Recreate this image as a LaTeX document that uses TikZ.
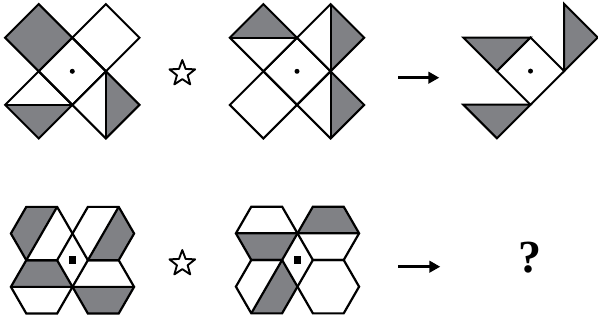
\documentclass[tikz,border=0pt]{standalone}
\usepackage{fontspec}
\setmainfont{Liberation Serif}
\usetikzlibrary{arrows.meta,shapes.geometric}

\definecolor{shade}{RGB}{128,129,133}

\begin{document}
\begin{tikzpicture}[x=1pt,y=-1pt,
  edge/.style={line width=2pt,line join=miter},
  hexedge/.style={line width=2.2pt,line join=miter},
  dark/.style={fill=shade},
  dot/.style={circle,fill,inner sep=0pt,minimum size=5pt},
  sqdot/.style={rectangle,fill,inner sep=0pt,minimum size=7.5pt},
  starmark/.style={star,star points=5,star point ratio=2.4,draw,line width=1.9pt,line join=round,minimum size=27pt,inner sep=0pt},
  a/.style={-{Triangle[length=11pt,width=11.5pt]},line width=2.8pt}]
\useasboundingbox (0,0) rectangle (598,322);

% top row: crosses of diamonds
\begin{scope}[shift={(72.3pt,-71.3pt)},x=33.6pt,y=-33.6pt]
  \fill[dark] (-2,-1)--(-1,-2)--(0,-1)--(-1,0)--cycle;
  \fill[dark] (-2,1)--(0,1)--(-1,2)--cycle;
  \fill[dark] (1,0)--(2,1)--(1,2)--cycle;
  \foreach \i/\j in {0/0,-1/-1,1/-1,-1/1,1/1}
    \draw[edge] (\i-1,\j)--(\i,\j-1)--(\i+1,\j)--(\i,\j+1)--cycle;
  \draw[edge] (-2,1)--(0,1) (1,0)--(1,2);
  \node[dot] (m1) at (0,0) {};
\end{scope}
\begin{scope}[shift={(297pt,-71.3pt)},x=33.6pt,y=-33.6pt]
  \fill[dark] (-2,-1)--(0,-1)--(-1,-2)--cycle;
  \fill[dark] (1,-2)--(2,-1)--(1,0)--cycle;
  \fill[dark] (1,0)--(2,1)--(1,2)--cycle;
  \foreach \i/\j in {0/0,-1/-1,1/-1,-1/1,1/1}
    \draw[edge] (\i-1,\j)--(\i,\j-1)--(\i+1,\j)--(\i,\j+1)--cycle;
  \draw[edge] (-2,-1)--(0,-1) (1,-2)--(1,0) (1,0)--(1,2);
  \node[dot] (m2) at (0,0) {};
\end{scope}
\begin{scope}[shift={(530.5pt,-71.1pt)},x=33.6pt,y=-33.6pt]
  \filldraw[dark,edge] (-2,-1)--(0,-1)--(-1,0)--cycle;
  \filldraw[dark,edge] (1,-2)--(2,-1)--(1,0)--cycle;
  \filldraw[dark,edge] (-2,1)--(0,1)--(-1,2)--cycle;
  \draw[edge] (-1,0)--(0,-1)--(1,0)--(0,1)--cycle;
  \node[dot] (m3) at (0,0) {};
\end{scope}

% bottom row: hexagons
\begin{scope}[shift={(72.5pt,-260.2pt)},x=30.8pt,y=-30.8pt]
  \fill[dark] (-.5,-1.732)--(-1.5,-1.732)--(-2,-.866)--(-1.5,0)--cycle;
  \fill[dark] (1.5,-1.732)--(2,-.866)--(1.5,0)--(.5,0)--cycle;
  \fill[dark] (-2,.866)--(-1.5,0)--(-.5,0)--(0,.866)--cycle;
  \fill[dark] (0,.866)--(2,.866)--(1.5,1.732)--(.5,1.732)--cycle;
  \foreach \i/\j in {-1/-.866,1/-.866,-1/.866,1/.866}
    \draw[hexedge] (\i+1,\j)--(\i+.5,\j-.866)--(\i-.5,\j-.866)--(\i-1,\j)--(\i-.5,\j+.866)--(\i+.5,\j+.866)--cycle;
  \draw[hexedge] (-.5,-1.732)--(-1.5,0) (1.5,-1.732)--(.5,0) (-2,.866)--(0,.866)--(2,.866);
  \node[sqdot] (n1) at (0,0) {};
\end{scope}
\begin{scope}[shift={(297.5pt,-260pt)},x=30.8pt,y=-30.8pt]
  \fill[dark] (-2,-.866)--(0,-.866)--(-.5,0)--(-1.5,0)--cycle;
  \fill[dark] (0,-.866)--(.5,-1.732)--(1.5,-1.732)--(2,-.866)--cycle;
  \fill[dark] (-.5,0)--(0,.866)--(-.5,1.732)--(-1.5,1.732)--cycle;
  \foreach \i/\j in {-1/-.866,1/-.866,-1/.866,1/.866}
    \draw[hexedge] (\i+1,\j)--(\i+.5,\j-.866)--(\i-.5,\j-.866)--(\i-1,\j)--(\i-.5,\j+.866)--(\i+.5,\j+.866)--cycle;
  \draw[hexedge] (-2,-.866)--(0,-.866)--(2,-.866) (-.5,0)--(-1.5,1.732);
  \node[sqdot] (n2) at (0,0) {};
\end{scope}

% operators
\node[starmark] (op1) at (182.3,73.5) {};
\node[starmark] (op2) at (182.3,263.5) {};
\coordinate (r1a) at (398.3,77.7);
\coordinate (r1b) at (439.3,77.7);
\coordinate (r2a) at (398.3,266.7);
\coordinate (r2b) at (440.3,266.7);
\draw[a] (r1a)--(r1b);
\draw[a] (r2a)--(r2b);
\node[font=\fontsize{46}{46}\selectfont\bfseries] (ans) at (530,257.5) {?};
\end{tikzpicture}
\end{document}
